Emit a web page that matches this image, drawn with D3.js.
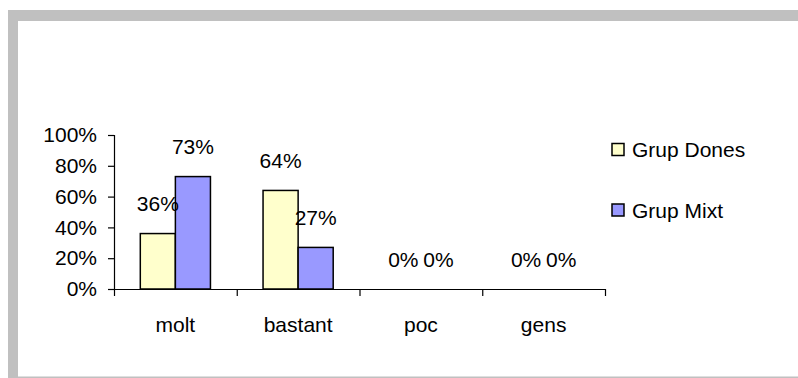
<!DOCTYPE html>
<html>
<head>
<meta charset="utf-8">
<script src="https://cdn.jsdelivr.net/npm/d3@7"></script>
<style>
  html, body { margin: 0; padding: 0; background: #fff; }
  svg { display: block; }
  text { font-family: "Liberation Sans", Arial, sans-serif; font-size: 21px; fill: #000; }
</style>
</head>
<body>
<svg id="chart" width="798" height="378"></svg>
<script>
// Survey answers: share of each group choosing each option
const categories = ["molt", "bastant", "poc", "gens"];
const seriesNames = ["Grup Dones", "Grup Mixt"];
const grupDones = [0.36, 0.64, 0, 0];
const grupMixt = [0.73, 0.27, 0, 0];
const yTicks = [0, 0.2, 0.4, 0.6, 0.8, 1.0];
const seriesColors = ["#FFFFCC", "#9999FF"];

const series = [grupDones, grupMixt];

const svg = d3.select("#chart");

// Grey frame (top and left bands, thin bottom rule)
svg.append("rect").attr("x", 8).attr("y", 10).attr("width", 790).attr("height", 11).attr("fill", "#C0C0C0");
svg.append("rect").attr("x", 8).attr("y", 10).attr("width", 10).attr("height", 368).attr("fill", "#C0C0C0");
svg.append("rect").attr("x", 18).attr("y", 376.5).attr("width", 780).attr("height", 1.5).attr("fill", "#C0C0C0");

const plot = { left: 114, right: 605, top: 135, bottom: 289 };

const x = d3.scaleBand().domain(categories).range([plot.left, plot.right]).padding(0);
const y = d3.scaleLinear().domain([0, 1]).range([plot.bottom, plot.top]);

// Two bars per category, gap of 1.5 bar widths shared between neighbours
const barW = x.bandwidth() / 3.5;
const inner = d3.scaleBand().domain(d3.range(series.length))
  .range([barW * 0.75, barW * 0.75 + barW * series.length]).padding(0);

// Bars
series.forEach((vals, si) => {
  svg.append("g").selectAll("rect")
    .data(vals.map((v, i) => ({ cat: categories[i], v })))
    .join("rect")
    .attr("x", d => x(d.cat) + inner(si))
    .attr("y", d => y(d.v))
    .attr("width", inner.bandwidth())
    .attr("height", d => y(0) - y(d.v))
    .attr("fill", seriesColors[si])
    .attr("stroke", d => d.v > 0 ? "#000" : "none")
    .attr("stroke-width", 1.5);
});

// Value labels above the bars
series.forEach((vals, si) => {
  svg.append("g").selectAll("text")
    .data(vals.map((v, i) => ({ cat: categories[i], v })))
    .join("text")
    .attr("x", d => x(d.cat) + inner(si) + inner.bandwidth() / 2)
    .attr("y", d => y(d.v) - 30)
    .attr("text-anchor", "middle")
    .attr("dominant-baseline", "central")
    .text(d => d3.format(".0%")(d.v));
});

// Y axis
const yAxis = svg.append("g")
  .attr("transform", `translate(${plot.left},0)`)
  .call(d3.axisLeft(y).tickValues(yTicks).tickFormat(d3.format(".0%")).tickSize(6).tickPadding(11));
yAxis.selectAll("text").style("font-size", "21px").style("font-family", "'Liberation Sans', Arial, sans-serif").attr("fill", "#000");

// X axis: baseline with ticks at category boundaries
const boundary = d3.scaleLinear().domain([0, categories.length]).range([plot.left, plot.right]);
svg.append("g")
  .attr("transform", `translate(0,${plot.bottom})`)
  .call(d3.axisBottom(boundary).tickValues(d3.range(categories.length + 1)).tickFormat("").tickSize(7).tickSizeOuter(0));

// Category labels
svg.append("g")
  .attr("transform", `translate(0,${plot.bottom})`)
  .call(d3.axisBottom(x).tickSize(0).tickPadding(28))
  .call(g => g.select(".domain").remove())
  .selectAll("text")
  .style("font-size", "21px").style("font-family", "'Liberation Sans', Arial, sans-serif").attr("fill", "#000");

svg.selectAll(".domain, .tick line").attr("stroke", "#000").attr("stroke-width", 1.2);

// Legend
const legend = svg.append("g").attr("transform", "translate(612,143.5)");
seriesNames.forEach((name, i) => {
  const row = legend.append("g").attr("transform", `translate(0,${i * 60.5})`);
  row.append("rect").attr("width", 12).attr("height", 12)
    .attr("fill", seriesColors[i]).attr("stroke", "#000").attr("stroke-width", 1.5);
  row.append("text").attr("x", 20).attr("y", 6).attr("dominant-baseline", "central").text(name);
});
</script>
</body>
</html>
